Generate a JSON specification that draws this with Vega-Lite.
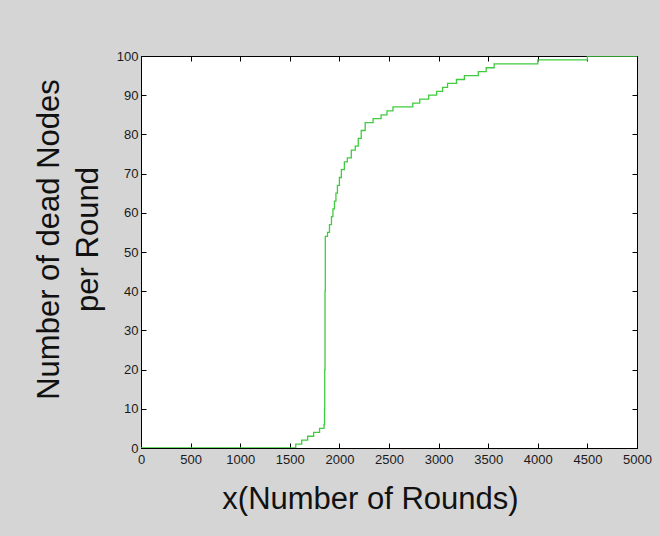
{
  "$schema": "https://vega.github.io/schema/vega-lite/v6.json",
  "width": 496,
  "height": 392,
  "autosize": {"type": "none"},
  "padding": {"left": 141, "top": 56, "right": 23, "bottom": 88},
  "background": "#d5d5d5",
  "config": {
    "view": {"fill": "white", "stroke": "#000000", "strokeWidth": 1},
    "font": "Liberation Sans",
    "axis": {
      "grid": false,
      "domainColor": "#000000",
      "tickColor": "#000000",
      "tickSize": -5,
      "labelFont": "Liberation Sans",
      "labelFontSize": 13,
      "labelColor": "#1a1a1a",
      "titleFont": "Liberation Sans",
      "titleFontWeight": "normal",
      "titleColor": "#111111",
      "titleFontSize": 31
    }
  },
  "data": {
    "values": [
      {"x": 0, "y": 0},
      {"x": 1560, "y": 1},
      {"x": 1620, "y": 2},
      {"x": 1680, "y": 3},
      {"x": 1740, "y": 4},
      {"x": 1800, "y": 5},
      {"x": 1845, "y": 6},
      {"x": 1850, "y": 10},
      {"x": 1852, "y": 20},
      {"x": 1855, "y": 40},
      {"x": 1858, "y": 54},
      {"x": 1880, "y": 55},
      {"x": 1900, "y": 57},
      {"x": 1920, "y": 59},
      {"x": 1935, "y": 61},
      {"x": 1950, "y": 63},
      {"x": 1965, "y": 65},
      {"x": 1980, "y": 67},
      {"x": 2000, "y": 69},
      {"x": 2020, "y": 71},
      {"x": 2050, "y": 73},
      {"x": 2080, "y": 74},
      {"x": 2120, "y": 76},
      {"x": 2160, "y": 77},
      {"x": 2190, "y": 79},
      {"x": 2220, "y": 81},
      {"x": 2260, "y": 83},
      {"x": 2340, "y": 84},
      {"x": 2420, "y": 85},
      {"x": 2480, "y": 86},
      {"x": 2540, "y": 87},
      {"x": 2740, "y": 88},
      {"x": 2810, "y": 89},
      {"x": 2900, "y": 90},
      {"x": 2980, "y": 91},
      {"x": 3040, "y": 92},
      {"x": 3090, "y": 93},
      {"x": 3180, "y": 94},
      {"x": 3260, "y": 95},
      {"x": 3400, "y": 96},
      {"x": 3480, "y": 97},
      {"x": 3560, "y": 98},
      {"x": 4000, "y": 99},
      {"x": 4500, "y": 100},
      {"x": 5000, "y": 100}
    ]
  },
  "layer": [
    {
      "mark": {"type": "line", "interpolate": "step-after", "color": "#3fcc3f", "strokeWidth": 1.3, "clip": true},
      "encoding": {
        "x": {
          "field": "x", "type": "quantitative",
          "scale": {"domain": [0, 5000], "nice": false, "zero": false},
          "axis": {"values": [0, 500, 1000, 1500, 2000, 2500, 3000, 3500, 4000, 4500, 5000], "format": "d", "title": "x(Number of Rounds)", "labelPadding": 10, "titlePadding": 18, "titleX": 229, "labelFlush": false}
        },
        "y": {
          "field": "y", "type": "quantitative",
          "scale": {"domain": [0, 100], "nice": false},
          "axis": {"values": [0, 10, 20, 30, 40, 50, 60, 70, 80, 90, 100], "format": "d", "title": ["Number of dead Nodes", "per Round"], "labelPadding": 8, "titlePadding": 12, "titleY": 183, "titleLineHeight": 39, "labelFlush": false}
        }
      }
    },
    {
      "mark": {"type": "line", "opacity": 0},
      "encoding": {
        "x": {
          "field": "x", "type": "quantitative",
          "scale": {"domain": [0, 5000], "nice": false, "zero": false},
          "axis": {"orient": "top", "values": [0, 500, 1000, 1500, 2000, 2500, 3000, 3500, 4000, 4500, 5000], "labels": false, "title": null, "domain": false}
        },
        "y": {
          "field": "y", "type": "quantitative",
          "scale": {"domain": [0, 100], "nice": false},
          "axis": {"orient": "right", "values": [0, 10, 20, 30, 40, 50, 60, 70, 80, 90, 100], "labels": false, "title": null, "domain": false}
        }
      }
    }
  ],
  "resolve": {"axis": {"x": "independent", "y": "independent"}}
}
